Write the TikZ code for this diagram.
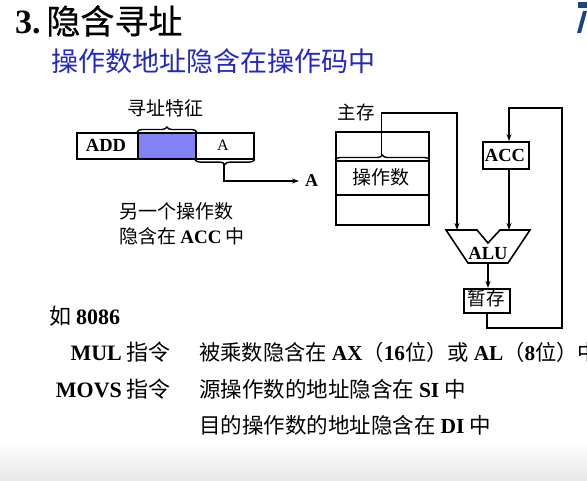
\documentclass[tikz,border=0pt]{standalone}
\usepackage{fontspec}
\setmainfont{Liberation Serif}
\newfontfamily\cjk{Noto Sans CJK SC}
\newfontfamily\cjkt[FakeBold=0.6]{Noto Sans CJK SC}
\usetikzlibrary{decorations.pathreplacing,arrows.meta,calc}
\definecolor{subblue}{RGB}{35,40,195}
\definecolor{modefill}{RGB}{130,130,245}
\definecolor{logoblue}{RGB}{25,70,130}
\newcommand{\fs}[1]{\fontsize{#1}{#1}\selectfont}
\tikzset{
  box/.style={draw, line width=1.6pt, inner sep=0pt},
  wire/.style={line width=1.4pt},
  arr/.style={wire, -{Stealth[length=7pt,width=5pt]}},
  brace/.style={wire, decorate, decoration={brace, amplitude=5pt}},
  txt/.style={inner sep=0pt, anchor=base},
}
\begin{document}
\begin{tikzpicture}[x=1pt,y=-1pt]
\useasboundingbox (0,0) rectangle (587,481);
\fill[white] (0,0) rectangle (587,481);
\shade[top color=white, bottom color=black!9] (0,440) rectangle (587,481);
% corner logo fragment
\fill[logoblue] (578,2) -- (587,2) -- (587,8) -- (578,8) -- cycle;
\fill[logoblue] (583,11) -- (587,11) -- (581,33) -- (577,33) -- cycle;

% heading
\node[txt, anchor=base west] (title) at (15,34) {\fs{34}\bfseries 3.\,{\cjkt\mdseries 隐含寻址}};
\node[txt, anchor=base west, text=subblue] (sub) at (51,72) {\fs{27}\cjk 操作数地址隐含在操作码中};

% instruction format
\node[box, minimum width=61pt, minimum height=26pt, anchor=north west] (opc) at (76,132) {};
\node[box, fill=modefill, minimum width=58pt, minimum height=26pt, anchor=north west] (mode) at (137,132) {};
\node[box, minimum width=58pt, minimum height=26pt, anchor=north west] (addr) at (195,132) {};
\node[txt] (addtxt) at (106,152) {\fs{18.5}\bfseries ADD};
\node[txt] (atxt) at (223,151) {\fs{16}A};
\draw[brace] (mode.north west) -- (mode.north east);
\node[txt] (modelbl) at (165,116) {\fs{19}\cjk 寻址特征};
\draw[brace] (addr.south east) -- (addr.south west);
\coordinate (addrtip) at (224,164);
\node[txt, anchor=base west] (alabel) at (305,187) {\fs{18}\bfseries A};
\coordinate (aend) at (299,181);
\draw[arr] (addrtip) |- (aend);
\node[txt, anchor=base west] (note1) at (119,219) {\fs{19}\cjk 另一个操作数};
\node[txt, anchor=base west] (note2) at (119,244) {\fs{19}{\cjk 隐含在 }\bfseries ACC{\cjk\mdseries\ 中}};

% main memory
\node[txt] (memlbl) at (356,120) {\fs{18.5}\cjk 主存};
\node[box, minimum width=93pt, minimum height=93pt, anchor=north west] (mem) at (335,131) {};
\node[box, minimum width=93pt, minimum height=34pt, anchor=north west] (opnd) at (335,160) {};
\node[txt] (opndtxt) at (381,185) {\fs{19}\cjk 操作数};
\draw[brace] (opnd.north west) -- (opnd.north east);
\coordinate (memtip) at (381.5,155);

% ALU
\coordinate (alu1) at (446,230);
\coordinate (alu2) at (477,230);
\coordinate (alu3) at (488,243);
\coordinate (alu4) at (500,230);
\coordinate (alu5) at (530,230);
\coordinate (alu6) at (508,263);
\coordinate (alu7) at (468,263);
\draw[line width=1.6pt, line join=miter] (alu1) -- (alu2) -- (alu3) -- (alu4) -- (alu5) -- (alu6) -- (alu7) -- cycle;
\node[txt] (alutxt) at (488,260) {\fs{18.5}\bfseries ALU};
\coordinate (aluin1) at (457,230);
\coordinate (aluin2) at (509,230);
\coordinate (aluout) at (488,263);

% accumulator and temp register
\node[box, minimum width=46pt, minimum height=27pt, anchor=north west] (acc) at (482,141) {};
\node[txt] (acctxt) at (505,162) {\fs{18.5}\bfseries ACC};
\node[box, minimum width=46pt, minimum height=24pt, anchor=north west] (tmp) at (463,288) {};
\node[txt] (tmptxt) at (486,306) {\fs{18.5}\cjk 暂存};

% data paths
\coordinate (memup) at (381.5,113);
\draw[arr] (memtip) -- (memup) -| (aluin1);
\draw[arr] (acc.south -| aluin2) -- (aluin2);
\draw[arr] (aluout) -- (aluout |- tmp.north);
\coordinate (loop1) at (487,328);
\coordinate (loop2) at (562,108);
\draw[arr] (tmp.south -| loop1) -- (loop1) -| (loop2) -| (acc.north -| aluin2);

% examples
\node[txt, anchor=base west] (eg) at (49,325) {\fs{22}{\cjk 如 }\bfseries 8086};
\node[txt, anchor=base east] (mul) at (171,360) {\fs{22}\bfseries MUL{\cjk\mdseries\ 指令}};
\node[txt, anchor=base west] (muld) at (199,360) {\fs{21.3}{\cjk 被乘数隐含在 }\bfseries AX{\cjk\mdseries （}16{\cjk\mdseries 位）或 }AL{\cjk\mdseries （}8{\cjk\mdseries 位）中}};
\node[txt, anchor=base east] (movs) at (171,397) {\fs{22}\bfseries MOVS{\cjk\mdseries\ 指令}};
\node[txt, anchor=base west] (movs1) at (199,397) {\fs{21.5}{\cjk 源操作数的地址隐含在 }\bfseries SI{\cjk\mdseries\ 中}};
\node[txt, anchor=base west] (movs2) at (199,433) {\fs{21.5}{\cjk 目的操作数的地址隐含在 }\bfseries DI{\cjk\mdseries\ 中}};
\end{tikzpicture}
\end{document}
